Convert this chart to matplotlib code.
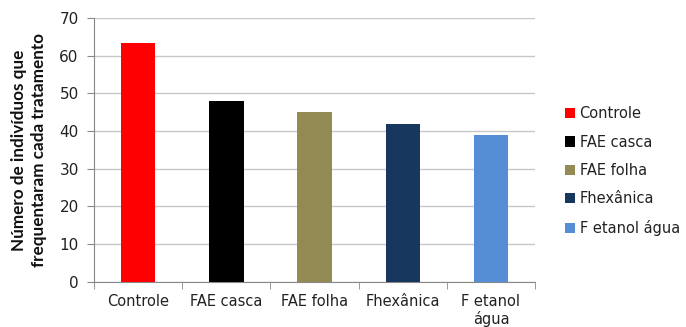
import matplotlib
matplotlib.use("Agg")
import matplotlib.pyplot as plt
from matplotlib.patches import Patch
import numpy as np

categories = ["Controle", "FAE casca", "FAE folha", "Fhexânica", "F etanol água"]
tick_labels = ["Controle", "FAE casca", "FAE folha", "Fhexânica", "F etanol\nágua"]
values = [63.3, 48, 45, 42, 39]
colors = ["#ff0000", "#000000", "#948a54", "#17375e", "#558ed5"]

plt.rcParams['font.family'] = ['DejaVu Sans']

fig = plt.figure(figsize=(6.86, 3.27), dpi=100)
ax = fig.add_axes([0.137, 0.138, 0.643, 0.807])

x = np.arange(len(categories))
ax.bar(x, values, width=0.39, color=colors, zorder=3)

ax.set_xlim(-0.5, len(categories) - 0.5)
ax.set_ylim(0, 70)
ax.set_yticks(np.arange(0, 71, 10))
ax.yaxis.grid(True, color="#c8c8c8", linewidth=1, zorder=0)
ax.set_xticks(x)
ax.set_xticklabels(tick_labels, fontsize=10.5, color="#222222", linespacing=1.1, va="top")
ax.set_xticks(np.arange(-0.5, len(categories), 1), minor=True)
ax.tick_params(axis="x", which="major", length=0, pad=9)
ax.tick_params(axis="x", which="minor", length=5, color="#888888")
ax.tick_params(axis="y", length=5, color="#888888", labelsize=11, labelcolor="#222222", pad=6)
for s in ["top", "right"]:
    ax.spines[s].set_visible(False)
for s in ["left", "bottom"]:
    ax.spines[s].set_color("#888888")

ax.set_ylabel("Número de indivíduos que\nfrequentaram cada tratamento", fontsize=12.3,
              family=["Lato", "DejaVu Sans"], fontweight="bold", color="#111111",
              linespacing=1.3, labelpad=9)

handles = [Patch(facecolor=c, edgecolor="none") for c in colors]
leg = fig.legend(handles, categories, loc="center left", bbox_to_anchor=(0.815, 0.477),
                 frameon=False, fontsize=10.5, handlelength=0.7, handleheight=0.7,
                 handletextpad=0.3, labelspacing=0.92, borderaxespad=0)
for t in leg.get_texts():
    t.set_color("#222222")

fig.savefig("out.png", dpi=100)
